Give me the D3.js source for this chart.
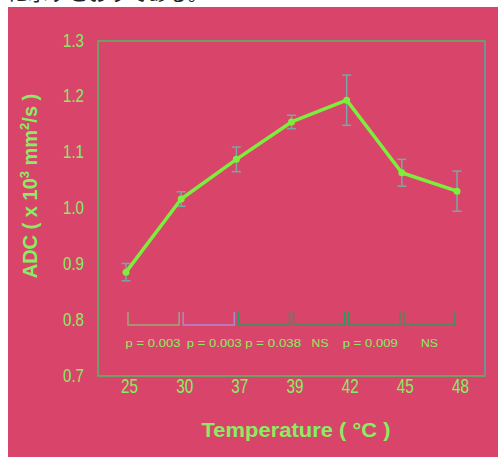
<!DOCTYPE html>
<html><head><meta charset="utf-8">
<script src="https://cdn.jsdelivr.net/npm/d3@7"></script>
<style>body{margin:0;background:#fff;}svg{display:block;}</style>
</head><body>
<svg id="c" width="498" height="457"></svg>
<script>
const categories = ["25","30","37","39","42","45","48"];
const adcMean = [0.886, 1.017, 1.088, 1.155, 1.194, 1.064, 1.031];
const adcErr  = [0.0155, 0.013, 0.022, 0.012, 0.045, 0.024, 0.036];
const yTicks = [0.7, 0.8, 0.9, 1.0, 1.1, 1.2, 1.3];
const pLabels = ["p = 0.003","p = 0.003","p = 0.038","NS","p = 0.009","NS"];

const bracketColors = ["#9aa878","#a88ad0","#2e9a5a","#2e9a5a","#2e9a5a","#2e9a5a"];
const pLabelShift = [-0.5, 5.5, 9.3, 1, -4, 0];
const pLabelWidth = [55, 55, 56, 17, 55, 17];
const green = "#86ee62", lineGreen = "#7cee3c", pink = "#d9446b";

const svg = d3.select("#c");
svg.append("rect").attr("x",8).attr("y",7).attr("width",490).attr("height",450).attr("fill",pink);
svg.append("text").attr("x",8).attr("y",1).attr("font-family","Noto Sans CJK JP").attr("font-size",20)
  .attr("fill","#222").text("に示すとおりである。");

const x = d3.scalePoint().domain(categories).range([126,457]);
const y = d3.scaleLinear().domain([0.7,1.3]).range([376,41]);

// frame
svg.append("rect").attr("x",98).attr("y",41).attr("width",387).attr("height",335)
  .attr("fill","none").attr("stroke","#4cbc62").attr("stroke-width",1.5);
svg.append("line").attr("x1",485).attr("x2",485).attr("y1",41).attr("y2",376).attr("stroke","#6a8ac0").attr("stroke-width",1);

// y axis
const ya = svg.append("g").attr("transform","translate(86,-1)")
  .call(d3.axisLeft(y).tickValues(yTicks).tickSize(0).tickPadding(2).tickFormat(d3.format(".1f")));
ya.select(".domain").remove();
ya.selectAll("text").attr("fill",green).attr("font-family","Liberation Sans, Arial").attr("font-size",19)
  .attr("textLength",21).attr("lengthAdjust","spacingAndGlyphs");

// x axis
const xa = svg.append("g").attr("transform","translate(3,378)")
  .call(d3.axisBottom(x).tickSize(0).tickPadding(0));
xa.select(".domain").remove();
xa.selectAll("text").attr("fill",green).attr("font-family","Liberation Sans, Arial").attr("font-size",21)
  .attr("textLength",17).attr("lengthAdjust","spacingAndGlyphs");

// brackets
const pairs = d3.range(categories.length-1);
svg.append("g").selectAll("path").data(pairs).join("path")
  .attr("d", i => { const a = x(categories[i])+2, b = x(categories[i+1])-2;
     return `M${a},312V325H${b}V312`; })
  .attr("fill","none").attr("stroke",(d,i)=>bracketColors[i]).attr("stroke-width",1.5);
svg.append("g").selectAll("text").data(pairs).join("text")
  .attr("x", i => (x(categories[i])+x(categories[i+1]))/2 + pLabelShift[i])
  .attr("y",347).attr("text-anchor","middle")
  .attr("fill",green).attr("font-family","Liberation Sans, Arial").attr("font-size",11)
  .attr("textLength",(d,i)=>pLabelWidth[i]).attr("lengthAdjust","spacingAndGlyphs")
  .text(i => pLabels[i]);

// error bars
const eb = svg.append("g").attr("stroke","#7aa8a0").attr("stroke-width",1.5);
categories.forEach((c,i)=>{
  const cx = x(c), t = y(adcMean[i]+adcErr[i]), b = y(adcMean[i]-adcErr[i]);
  eb.append("line").attr("x1",cx).attr("x2",cx).attr("y1",t).attr("y2",b);
  eb.append("line").attr("x1",cx-4.5).attr("x2",cx+4.5).attr("y1",t).attr("y2",t);
  eb.append("line").attr("x1",cx-4.5).attr("x2",cx+4.5).attr("y1",b).attr("y2",b);
});

// line
const line = d3.line().x((d,i)=>x(categories[i])).y(d=>y(d));
svg.append("path").datum(adcMean).attr("d",line).attr("fill","none")
  .attr("stroke",lineGreen).attr("stroke-width",3.5).attr("stroke-linejoin","round");
svg.append("g").selectAll("circle").data(adcMean).join("circle")
  .attr("cx",(d,i)=>x(categories[i])).attr("cy",d=>y(d)).attr("r",3.5).attr("fill",lineGreen);

// axis titles
svg.append("text").attr("x",296).attr("y",437).attr("text-anchor","middle")
  .attr("fill",green).attr("font-family","Liberation Sans, Arial").attr("font-weight","bold").attr("font-size",20)
  .attr("textLength",189).attr("lengthAdjust","spacingAndGlyphs").text("Temperature ( °C )");

const yt = svg.append("text").attr("transform","translate(37,186) rotate(-90)").attr("text-anchor","middle")
  .attr("fill",green).attr("font-family","Liberation Sans, Arial").attr("font-weight","bold").attr("font-size",20);
yt.append("tspan").text("ADC ( x 10");
yt.append("tspan").attr("font-size",13).attr("dy",-8).text("3");
yt.append("tspan").attr("dy",8).text(" mm");
yt.append("tspan").attr("font-size",13).attr("dy",-8).text("2");
yt.append("tspan").attr("dy",8).text("/s )");
</script>
</body></html>
